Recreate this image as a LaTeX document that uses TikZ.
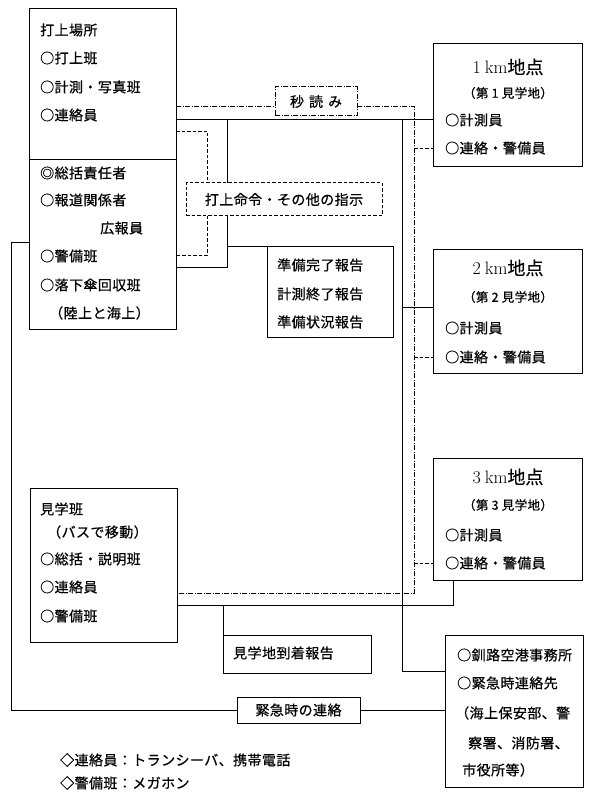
\documentclass[tikz,border=0pt]{standalone}
\usepackage{fontspec}
\newfontfamily\jp[LetterSpace=3,FakeBold=0.6]{Noto Sans CJK JP}
\newfontfamily\jpt[FakeBold=0.3]{Noto Sans CJK JP}
\newcommand{\jpn}{\jp\fontsize{14}{14}\selectfont}
\newcommand{\jps}{\jp\fontsize{12.5}{12.5}\selectfont}
\begin{document}
\begin{tikzpicture}[x=1pt,y=-1pt,
  box/.style={draw, line width=1pt, inner sep=0pt, outer sep=0pt, anchor=north west},
  txt/.style={font=\jpn, anchor=west, inner sep=0pt},
  ptxt/.style={font=\jps, anchor=center, inner sep=0pt},
  ttl/.style={font=\fontsize{18}{18}\selectfont, anchor=center, inner sep=0pt},
  ln/.style={line width=0.9pt},
  dd/.style={line width=0.8pt, dash pattern=on 5pt off 1.5pt on 1pt off 1.5pt},
  ds/.style={line width=0.9pt, dash pattern=on 3.5pt off 2pt}]
\path[fill=white, use as bounding box] (0,0) rectangle (600,802);

% boxes
\node[box, minimum width=147pt, minimum height=320pt] (launch) at (29,9) {};
\node[box, minimum width=149pt, minimum height=123pt] (km1) at (433,44) {};
\node[box, minimum width=149pt, minimum height=124pt] (km2) at (433,249) {};
\node[box, minimum width=149pt, minimum height=122pt] (km3) at (433,458) {};
\node[box, minimum width=138pt, minimum height=152pt] (kushiro) at (445,635) {};
\node[box, minimum width=147pt, minimum height=154pt] (kengaku) at (30,488) {};
\node[box, dd, line width=1pt, minimum width=82pt, minimum height=29pt, font=\jpn] (byo) at (275,87) {秒\hspace{5pt}読\hspace{5pt}み};
\node[box, ds, line width=1pt, minimum width=196pt, minimum height=33pt, font=\jpn] (order) at (186,183) {打上命令・その他の指示};
\node[box, minimum width=126pt, minimum height=91pt] (reports) at (267,246) {};
\node[box, minimum width=148pt, minimum height=38pt] (arrival) at (223,635) {};
\node[box, minimum width=123pt, minimum height=26pt, font=\jpn] (emerg) at (237,697) {緊急時の連絡};

% divider in launch box
\coordinate (dv) at (0,159);
\draw[ln] (launch.west |- dv) -- (launch.east |- dv);

% texts: launch site
\node[txt] (a1) at (40,30) {打上場所};
\node[txt] (a2) at (40,58) {○打上班};
\node[txt] (a3) at (40,87) {○計測・写真班};
\node[txt] (a4) at (40,115) {○連絡員};
\node[txt] (a5) at (40,173) {◎総括責任者};
\node[txt] (a6) at (40,200) {○報道関係者};
\node[txt] (a7) at (100,228) {広報員};
\node[txt] (a8) at (40,256) {○警備班};
\node[txt] (a9) at (40,285) {○落下傘回収班};
\node[txt] (a10) at (49,313) {（陸上と海上）};

% km boxes
\node[ttl] (k1t) at (508,67) {\rmfamily 1\hspace{4pt}km{\jpt 地点}};
\node[ptxt] (k1p) at (508,93) {（第 1 見学地）};
\node[txt] (k1a) at (445,120) {○計測員};
\node[txt] (k1b) at (445,148) {○連絡・警備員};
\node[ttl] (k2t) at (508,268) {\rmfamily 2\hspace{4pt}km{\jpt 地点}};
\node[ptxt] (k2p) at (508,297) {（第 2 見学地）};
\node[txt] (k2a) at (445,328) {○計測員};
\node[txt] (k2b) at (445,357) {○連絡・警備員};
\node[ttl] (k3t) at (508,477) {\rmfamily 3\hspace{4pt}km{\jpt 地点}};
\node[ptxt] (k3p) at (508,505) {（第 3 見学地）};
\node[txt] (k3a) at (445,535) {○計測員};
\node[txt] (k3b) at (445,563) {○連絡・警備員};

% reports
\node[txt] (r1) at (277,265) {準備完了報告};
\node[txt] (r2) at (277,294) {計測終了報告};
\node[txt] (r3) at (277,322) {準備状況報告};

% kengaku
\node[txt] (g1) at (40,509) {見学班};
\node[txt] (g2) at (47,532) {（バスで移動）};
\node[txt] (g3) at (40,559) {○総括・説明班};
\node[txt] (g4) at (40,587) {○連絡員};
\node[txt] (g5) at (40,616) {○警備班};

% arrival
\node[txt] (ar) at (233,653) {見学地到着報告};

% kushiro
\node[txt] (s1) at (457,655) {○釧路空港事務所};
\node[txt] (s2) at (457,683) {○緊急時連絡先};
\node[txt] (s3) at (455,713) {（海上保安部、警};
\node[txt] (s4) at (468,743) {察署、消防署、};
\node[txt] (s5) at (462,770) {市役所等）};

% legend
\node[txt] (l1) at (60,760) {◇連絡員：トランシーバ、携帯電話};
\node[txt] (l2) at (60,783) {◇警備班：メガホン};

% coordinates
\coordinate (y119) at (0,119);
\coordinate (j1) at (402,119);
\coordinate (j2) at (402,307);
\coordinate (j3) at (227,119);
\coordinate (j4) at (227,246);
\coordinate (y267) at (0,267);
\coordinate (y671) at (0,671);
\coordinate (y605) at (0,605);
\coordinate (x453) at (453,0);
\coordinate (L) at (11,242);
\coordinate (y131) at (0,131);
\coordinate (y255) at (0,255);
\coordinate (x207) at (207,0);
\coordinate (y106) at (0,106);
\coordinate (dd1) at (414,593);
\coordinate (d1) at (414,148);
\coordinate (d2) at (414,357);
\coordinate (d3) at (414,563);

% solid connectors
\draw[ln] (launch.east |- y119) -- (km1.west |- y119);
\draw[ln] (j1) |- (kushiro.west |- y671);
\draw[ln] (j2) -- (km2.west |- j2);
\draw[ln] (j3) -- (j3 |- order.north);
\draw[ln] (launch.east |- y267) -| (j3 |- order.south);
\draw[ln] (j4) -- (reports.north west);
\draw[ln] (kengaku.east |- y605) -| (km3.south -| x453);
\draw[ln] (arrival.north west) -- (arrival.north west |- y605);
\draw[ln] (launch.west |- L) -- (L) |- (emerg.west);
\draw[ln] (emerg.east) -- (kushiro.west |- emerg.east);

% dashed connectors
\draw[ds] (launch.east |- y131) -| (order.north -| x207);
\draw[ds] (order.south -| x207) |- (launch.east |- y255);
\draw[ds] (d1) -- (km1.west |- d1);
\draw[ds] (d2) -- (km2.west |- d2);
\draw[ds] (d3) -- (km3.west |- d3);

% dash-dot connectors
\draw[dd] (launch.east |- y106) -- (byo.west |- y106);
\draw[dd] (byo.east |- y106) -| (dd1) -- (kengaku.east |- dd1);
\end{tikzpicture}
\end{document}
